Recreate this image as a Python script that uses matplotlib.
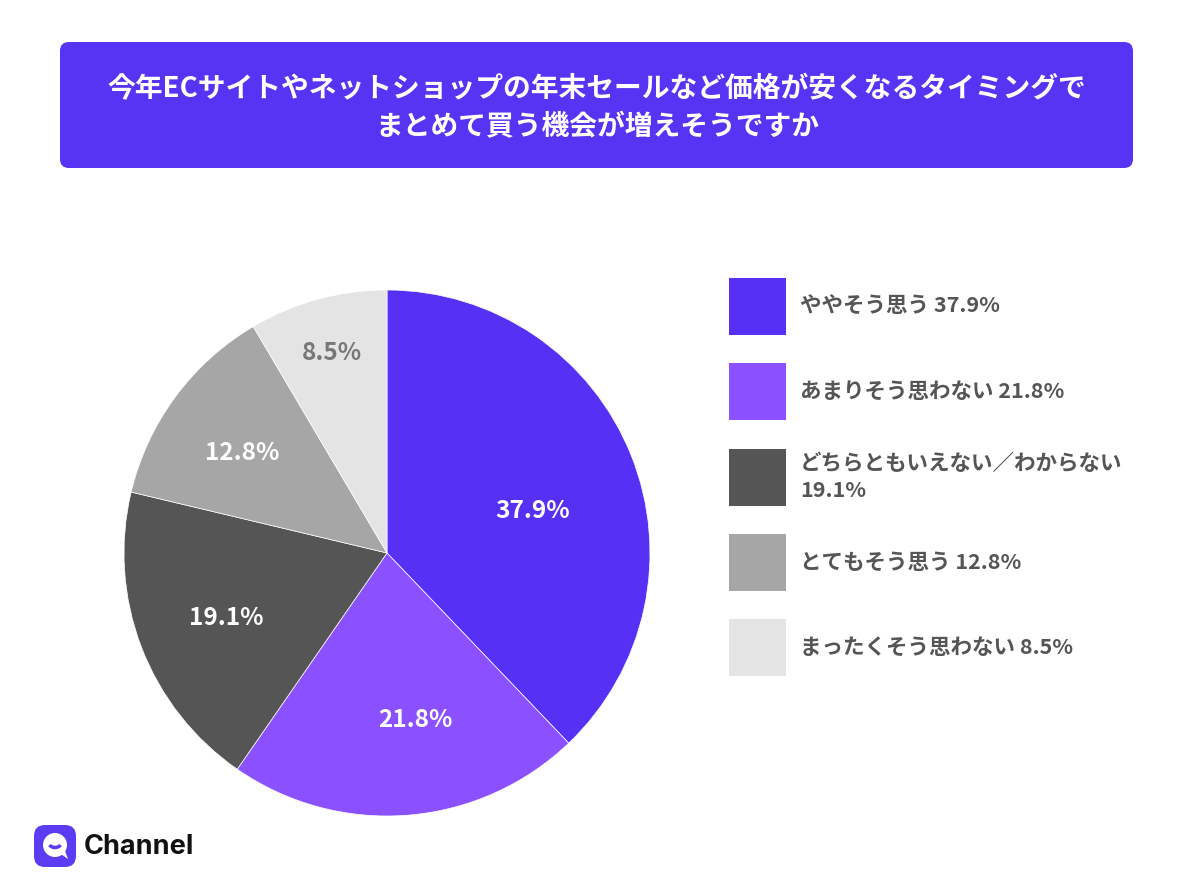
import matplotlib
matplotlib.use("Agg")
import matplotlib.pyplot as plt
from matplotlib.patches import FancyBboxPatch, Rectangle, Circle, Arc, Polygon
import numpy as np

plt.rcParams['font.family'] = ['Noto Sans CJK JP', 'DejaVu Sans']

# ----------------------------------------
# Data
# ----------------------------------------
title = "今年ECサイトやネットショップの年末セールなど価格が安くなるタイミングで\nまとめて買う機会が増えそうですか"
categories = ["ややそう思う", "あまりそう思わない", "どちらともいえない／わからない",
              "とてもそう思う", "まったくそう思わない"]
values = [37.9, 21.8, 19.1, 12.8, 8.5]
legend_labels = ["ややそう思う 37.9%", "あまりそう思わない 21.8%",
                 "どちらともいえない／わからない\n19.1%", "とてもそう思う 12.8%",
                 "まったくそう思わない 8.5%"]
colors = ["#5631F5", "#8B50FF", "#555555", "#A6A6A6", "#E4E4E4"]
label_colors = ["white", "white", "white", "white", "#777777"]
label_radius = [0.575, 0.645, 0.66, 0.67, 0.79]
label_shift = [-5.6, 5.2, 0.9, 1.8, 0.0]   # degrees

W, H = 1194, 888
fig = plt.figure(figsize=(W / 100, H / 100), dpi=100)

# overlay in pixel coordinates for decorations
bg = fig.add_axes([0, 0, 1, 1])
bg.set_xlim(0, W)
bg.set_ylim(H, 0)
bg.axis("off")

# title box
bg.add_patch(FancyBboxPatch((60, 42), 1073, 126,
                            boxstyle="round,pad=0,rounding_size=9",
                            fc="#5733F4", ec="none"))
bg.text(597, 108, title, color="white", fontsize=20, fontweight="bold",
        ha="center", va="center", linespacing=1.45)

# ----------------------------------------
# Pie
# ----------------------------------------
cx, cy, r = 387, 553, 263
ax = fig.add_axes([(cx - r) / W, (H - cy - r) / H, 2 * r / W, 2 * r / H])
wedges, _ = ax.pie(values, colors=colors, startangle=90, counterclock=False,
                   wedgeprops=dict(linewidth=0.5, edgecolor="white"))
ax.set_xlim(-1, 1)
ax.set_ylim(-1, 1)
ax.set_aspect("equal")

for w, v, c, lr, sh in zip(wedges, values, label_colors, label_radius, label_shift):
    mid = np.deg2rad((w.theta1 + w.theta2) / 2 + sh)
    ax.text(lr * np.cos(mid), lr * np.sin(mid), f"{v}%", color=c,
            fontsize=17.5, fontweight="bold", ha="center", va="center")

# ----------------------------------------
# Legend
# ----------------------------------------
for i, (lab, col) in enumerate(zip(legend_labels, colors)):
    y0 = 278 + i * 85.3
    bg.add_patch(Rectangle((729, y0), 57, 57, fc=col, ec="none"))
    bg.text(800, y0 + 28.5, lab, color="#555555", fontsize=15.5,
            fontweight="bold", ha="left", va="center", linespacing=1.35)

# ----------------------------------------
# Logo
# ----------------------------------------
bg.add_patch(FancyBboxPatch((34, 825), 42, 42,
                            boxstyle="round,pad=0,rounding_size=11",
                            fc="#5B3CF2", ec="none"))
bg.add_patch(Circle((55, 845), 12, fc="white", ec="none"))
bg.add_patch(Polygon([[58, 852], [68, 859], [64, 848]], fc="white", ec="none"))
bg.add_patch(Arc((55, 843), 12, 9, theta1=20, theta2=160, color="#5B3CF2", lw=2.5))
bg.text(84, 847, "Channel", color="#111111", fontsize=19.5, fontweight="bold",
        family=["Inter", "DejaVu Sans"], ha="left", va="center")

fig.savefig("out.png", dpi=100, facecolor="white")
